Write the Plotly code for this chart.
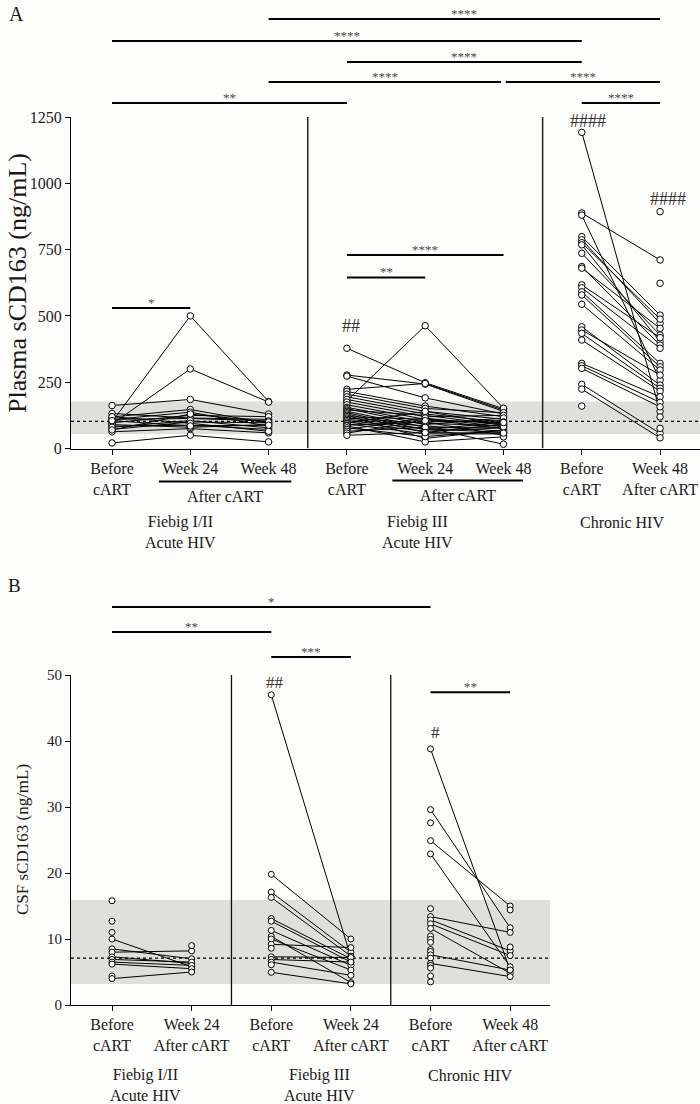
import plotly.graph_objects as go

W, H = 700, 1104
FONT = "Liberation Serif, Times New Roman, serif"
INK = "#1a1a1a"
STAR = "#4a4a4a"

# ---------------- Panel A: plasma sCD163 (ng/mL) ----------------
a_pos = [1, 2, 3, 4, 5, 6, 7, 8]
a_ticktext = ["Before<br>cART", "Week 24", "Week 48",
              "Before<br>cART", "Week 24", "Week 48",
              "Before<br>cART", "Week 48<br>After cART"]
a_yticks = [0, 250, 500, 750, 1000, 1250]
a_band = (55, 177)
a_ref_line = 102

a_f12_before = [162, 100, 92, 21, 132, 119, 109, 97, 84, 72, 63, 110, 90, 80, 120, 70, 105]
a_f12_wk24 = [185, 500, 300, 50, 115, 147, 137, 125, 88, 100, 75, 113, 80, 105, 95, 130, 85]
a_f12_wk48 = [130, 177, 175, 25, 110, 95, 84, 120, 72, 97, 59, 104, 90, 78, 65, 100, 88]

a_f3_before = [378, 277, 273, 223, 180, 215, 205, 195, 185, 175, 165, 155, 150, 145, 140, 135,
               130, 125, 120, 115, 110, 105, 100, 95, 93, 88, 85, 78, 72, 65, 58, 50]
a_f3_wk24 = [248, 243, 191, 245, 463, 160, 151, 140, 130, 120, 110, 100, 90, 125, 80, 70,
             60, 38, 110, 95, 85, 75, 65, 140, 55, 100, 25, 45, 115, 80, 105, 60]
a_f3_wk48 = [150, 140, 130, 145, 152, 120, 135, 110, 100, 125, 95, 105, 115, 88, 80, 100,
             92, 70, 75, 85, 65, 60, 78, 90, 55, 50, 44, 68, 82, 16, 98, 58]

a_chr_before = [1192, 888, 880, 799, 787, 776, 768, 736, 686, 680, 617, 606, 591, 579, 544,
                459, 447, 434, 409, 321, 312, 302, 242, 224, 160, None, None, None, None]
a_chr_wk48 = [140, 711, 258, 503, 472, 488, 403, 428, 390, 453, 418, 378, 321, 308, 296,
              239, 277, 227, 216, 195, 174, 157, 57, 40, None, 893, 623, 76, 119]

# significance brackets above panel A: (from, to, label, pixel row)
a_sig_above = [(3, 8, "****", 19), (1, 7, "****", 41), (4, 7, "****", 62),
               (3, 5.97, "****", 82), (6.03, 8, "****", 82),
               (7, 8, "****", 103), (1, 4, "**", 103)]
# significance brackets inside panel A: (from, to, label, data y)
a_sig_in = [(1, 2, "*", 530), (4, 5, "**", 645), (4, 6, "****", 730)]
a_hash = [(4.05, 462, "##"), (7.08, 1236, "####"), (8.1, 942, "####")]

# ---------------- Panel B: CSF sCD163 (ng/mL) ----------------
b_pos = [1, 2, 3, 4, 5, 6]
b_ticktext = ["Before<br>cART", "Week 24<br>After cART",
              "Before<br>cART", "Week 24<br>After cART",
              "Before<br>cART", "Week 48<br>After cART"]
b_yticks = [0, 10, 20, 30, 40, 50]
b_band = (3.2, 15.9)
b_ref_line = 7.1

b_f12_before = [15.8, 12.7, 11.0, 10.0, 8.5, 8.0, 7.3, 6.9, 6.5, 6.2, 4.4, 4.0, None]
b_f12_wk24 = [None, None, None, 5.8, 7.0, 8.2, 6.3, 6.5, 6.0, 5.5, None, 5.0, 9.0]

b_f3_before = [47.0, 19.8, 17.1, 16.3, 13.1, 12.7, 11.3, 10.4, 10.0, 9.2, 8.6, 7.3, 6.9, 6.5, 6.1, 4.95]
b_f3_wk24 = [7.2, 10.0, 8.0, 7.4, 7.0, 6.5, 6.0, 3.4, 5.3, 8.7, None, 7.2, 6.5, 4.5, None, 3.2]

b_chr_before = [38.8, 29.6, 27.6, 24.9, 22.9, 14.6, 13.4, 12.9, 12.3, 11.6, 10.45, 9.95, 9.5,
                8.4, 8.1, 7.6, 7.1, 6.3, 6.0, 5.6, 4.4, 3.5, None, None]
b_chr_wk48 = [5.3, 11.7, None, 15.0, 5.8, None, 11.0, 8.2, 7.5, 4.8, None, None, None,
              None, None, 5.3, None, 4.3, None, None, None, None, 14.4, 8.8]

b_sig_above = [(1, 5, "*", 607), (1, 3, "**", 632), (3, 4, "***", 657)]
b_sig_in = [(5, 6, "**", 47.4)]
b_hash = [(3.05, 48.9, "##"), (5.06, 41.3, "#")]

a_groups = [((1, 2, 3), [a_f12_before, a_f12_wk24, a_f12_wk48]),
            ((4, 5, 6), [a_f3_before, a_f3_wk24, a_f3_wk48]),
            ((7, 8), [a_chr_before, a_chr_wk48])]
b_groups = [((1, 2), [b_f12_before, b_f12_wk24]),
            ((3, 4), [b_f3_before, b_f3_wk24]),
            ((5, 6), [b_chr_before, b_chr_wk48])]


def build(groups):
    lx, ly, mx, my = [], [], [], []
    for xs, arrs in groups:
        for i in range(len(arrs[0])):
            pts = [(xs[t], arrs[t][i]) for t in range(len(arrs)) if arrs[t][i] is not None]
            for p in pts:
                mx.append(p[0]); my.append(p[1])
            if len(pts) >= 2:
                for p in pts:
                    lx.append(p[0]); ly.append(p[1])
                lx.append(None); ly.append(None)
    return lx, ly, mx, my


def py(p):
    return 1 - p / H


fig = go.Figure()
for groups, xa, ya, msize in [(a_groups, "x", "y", 6.5), (b_groups, "x2", "y2", 6)]:
    lx, ly, mx, my = build(groups)
    fig.add_trace(go.Scatter(x=lx, y=ly, mode="lines", xaxis=xa, yaxis=ya,
                             line=dict(color="black", width=1), hoverinfo="skip",
                             showlegend=False, cliponaxis=False))
    fig.add_trace(go.Scatter(x=mx, y=my, mode="markers", xaxis=xa, yaxis=ya,
                             marker=dict(symbol="circle", size=msize, color="white",
                                         line=dict(color="black", width=1)),
                             showlegend=False, cliponaxis=False))

shapes = []
annots = []


def text(xr, yr, x, y, s, size, color=INK, **kw):
    d = dict(xref=xr, yref=yr, x=x, y=y, text=s, showarrow=False,
             xanchor="center", yanchor="middle", font=dict(family=FONT, size=size, color=color))
    d.update(kw)
    annots.append(d)


def band(xr, yr, lo, hi, med):
    shapes.append(dict(type="rect", xref=xr + " domain", yref=yr, x0=0, x1=1, y0=lo, y1=hi,
                       fillcolor="#dfdfdc", line=dict(width=0), layer="below"))
    shapes.append(dict(type="line", xref=xr + " domain", yref=yr, x0=0, x1=1, y0=med, y1=med,
                       line=dict(color="black", width=1.2, dash="dot"), layer="below"))


band("x", "y", *a_band, a_ref_line)
band("x2", "y2", *b_band, b_ref_line)

# group dividers
for xv in (3.5, 6.5):
    shapes.append(dict(type="line", xref="x", yref="y", x0=xv, x1=xv, y0=0, y1=a_yticks[-1],
                       line=dict(color="#222", width=1.5)))
for xv in (2.5, 4.5):
    shapes.append(dict(type="line", xref="x2", yref="y2", x0=xv, x1=xv, y0=0, y1=b_yticks[-1],
                       line=dict(color="#111", width=1.3)))


def sig(xr, yr, x0, x1, lab, yv, size=13):
    shapes.append(dict(type="line", xref=xr, yref=yr, x0=x0, x1=x1, y0=yv, y1=yv,
                       line=dict(color="black", width=2)))
    text(xr, yr, (x0 + x1) / 2, yv, lab, size, STAR, yanchor="bottom", yshift=-4)


for x0, x1, lab, p in a_sig_above:
    sig("x", "paper", x0, x1, lab, py(p))
for x0, x1, lab, v in a_sig_in:
    sig("x", "y", x0, x1, lab, v)
for x0, x1, lab, p in b_sig_above:
    sig("x2", "paper", x0, x1, lab, py(p))
for x0, x1, lab, v in b_sig_in:
    sig("x2", "y2", x0, x1, lab, v)

for xv, yv, lab in a_hash:
    text("x", "y", xv, yv, lab, 18, "#333")
for xv, yv, lab in b_hash:
    text("x2", "y2", xv, yv, lab, 17, "#333")

# "After cART" brackets under week labels (panel A)
for x0, x1, p_line, p_text in [(1.6, 3.29, 481.5, 497), (4.58, 6.25, 480.5, 495)]:
    shapes.append(dict(type="line", xref="x", yref="paper", x0=x0, x1=x1,
                       y0=py(p_line), y1=py(p_line), line=dict(color="black", width=2)))
    text("x", "paper", (x0 + x1) / 2, py(p_text), "After cART", 16)

# group labels
for xv, lab in [(1.87, "Fiebig I/II<br>Acute HIV"), (4.9, "Fiebig III<br>Acute HIV")]:
    text("x", "paper", xv, py(532), lab, 16)
text("x", "paper", 7.52, py(522), "Chronic HIV", 16)
for xv, lab in [(1.42, "Fiebig I/II<br>Acute HIV"), (3.6, "Fiebig III<br>Acute HIV")]:
    text("x2", "paper", xv, py(1085), lab, 16)
text("x2", "paper", 5.5, py(1075), "Chronic HIV", 16)

# panel letters and axis titles
text("paper", "paper", 7 / W, py(14), "A", 20, xanchor="left")
text("paper", "paper", 6 / W, py(585), "B", 19, xanchor="left")
text("paper", "paper", 18 / W, py(283), "Plasma sCD163 (ng/mL)", 26, textangle=-90)
text("paper", "paper", 22 / W, py(840), "CSF sCD163 (ng/mL)", 17, textangle=-90)

axis_common = dict(showline=True, linecolor="black", linewidth=1.2, ticks="outside",
                   ticklen=5, tickwidth=1, tickcolor="black", showgrid=False, zeroline=False,
                   automargin=False, tickfont=dict(family=FONT, size=16, color=INK))

fig.update_layout(
    width=W, height=H,
    margin=dict(l=0, r=0, t=0, b=0),
    paper_bgcolor="#fdfdfb", plot_bgcolor="rgba(0,0,0,0)",
    showlegend=False,
    xaxis=dict(domain=[71 / W, 1.0], range=[0.476, 8.51], anchor="y",
               tickmode="array", tickvals=a_pos, ticktext=a_ticktext, **axis_common),
    yaxis=dict(domain=[py(448.5), py(117)], range=[0, 1250], anchor="x",
               tickmode="array", tickvals=a_yticks, **axis_common),
    xaxis2=dict(domain=[71 / W, 550 / W], range=[0.485, 6.5], anchor="y2",
                tickmode="array", tickvals=b_pos, ticktext=b_ticktext, **axis_common),
    yaxis2=dict(domain=[py(1005), py(675)], range=[0, 50], anchor="x2",
                tickmode="array", tickvals=b_yticks, **axis_common),
    shapes=shapes, annotations=annots,
)
fig.layout.yaxis2.tickfont.size = 15

fig.write_html("out.html", config={"displayModeBar": False},
               post_script="document.body.style.margin='0';")
